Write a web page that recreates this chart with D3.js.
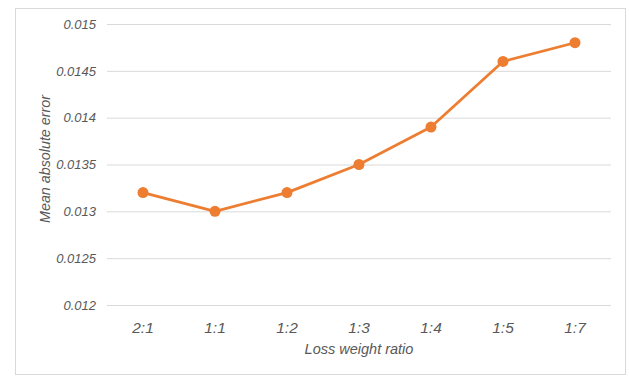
<!DOCTYPE html>
<html>
<head>
<meta charset="utf-8">
<script src="https://cdn.jsdelivr.net/npm/d3@7"></script>
<style>
  html, body { margin: 0; padding: 0; background: #fff; }
  svg { display: block; font-family: "Liberation Sans", Arial, sans-serif; }
</style>
</head>
<body>
<svg id="chart" width="629" height="376"></svg>
<script>
// Loss weight ratios and the mean absolute error for each
const ratios = ["2:1", "1:1", "1:2", "1:3", "1:4", "1:5", "1:7"];
const maeValues = [0.0132, 0.0130, 0.0132, 0.0135, 0.0139, 0.0146, 0.0148];
const yTicks = [0.012, 0.0125, 0.013, 0.0135, 0.014, 0.0145, 0.015];
const yTickLabels = ["0.012", "0.0125", "0.013", "0.0135", "0.014", "0.0145", "0.015"];

const svg = d3.select("#chart");
const plot = { left: 107, right: 611, top: 24, bottom: 305 };

// Outer frame
svg.append("rect")
  .attr("x", 15.5).attr("y", 8.5)
  .attr("width", 610).attr("height", 366)
  .attr("fill", "#fff")
  .attr("stroke", "#d9d9d9").attr("stroke-width", 1);

const x = d3.scaleBand().domain(ratios).range([plot.left, plot.right]);
const y = d3.scaleLinear().domain([0.012, 0.015]).range([plot.bottom, plot.top]);

// Horizontal gridlines + y tick labels
const yAxis = d3.axisLeft(y)
  .tickValues(yTicks)
  .tickFormat((d, i) => yTickLabels[i])
  .tickSize(-(plot.right - plot.left))
  .tickPadding(11);
const gy = svg.append("g")
  .attr("transform", `translate(${plot.left},0)`)
  .call(yAxis);
gy.select(".domain").remove();
gy.selectAll(".tick line").attr("stroke", "#d9d9d9").attr("stroke-width", 1);
gy.selectAll(".tick text")
  .attr("fill", "#595959")
  .attr("font-size", 13)
  .attr("font-style", "italic");

// Category labels along the bottom
const xAxis = d3.axisBottom(x).tickSize(0).tickPadding(17);
const gx = svg.append("g")
  .attr("transform", `translate(0,${plot.bottom})`)
  .call(xAxis);
gx.select(".domain").remove();
gx.selectAll(".tick text")
  .attr("fill", "#595959")
  .attr("font-size", 15.5)
  .attr("font-style", "italic");

// Axis titles
svg.append("text")
  .attr("x", (plot.left + plot.right) / 2)
  .attr("y", 354)
  .attr("text-anchor", "middle")
  .attr("fill", "#595959")
  .attr("font-size", 14.5)
  .attr("font-style", "italic")
  .text("Loss weight ratio");

svg.append("text")
  .attr("transform", "translate(50,159) rotate(-90)")
  .attr("text-anchor", "middle")
  .attr("fill", "#595959")
  .attr("font-size", 14.3)
  .attr("font-style", "italic")
  .text("Mean absolute error");

// Series line and markers
const cx = d => x(d) + x.bandwidth() / 2;
const line = d3.line()
  .x((d, i) => cx(ratios[i]))
  .y(d => y(d));

svg.append("path")
  .datum(maeValues)
  .attr("fill", "none")
  .attr("stroke", "#ed7d31")
  .attr("stroke-width", 2.75)
  .attr("stroke-linejoin", "round")
  .attr("d", line);

svg.append("g")
  .selectAll("circle")
  .data(maeValues)
  .join("circle")
  .attr("cx", (d, i) => cx(ratios[i]))
  .attr("cy", d => y(d))
  .attr("r", 5.5)
  .attr("fill", "#ed7d31");
</script>
</body>
</html>
